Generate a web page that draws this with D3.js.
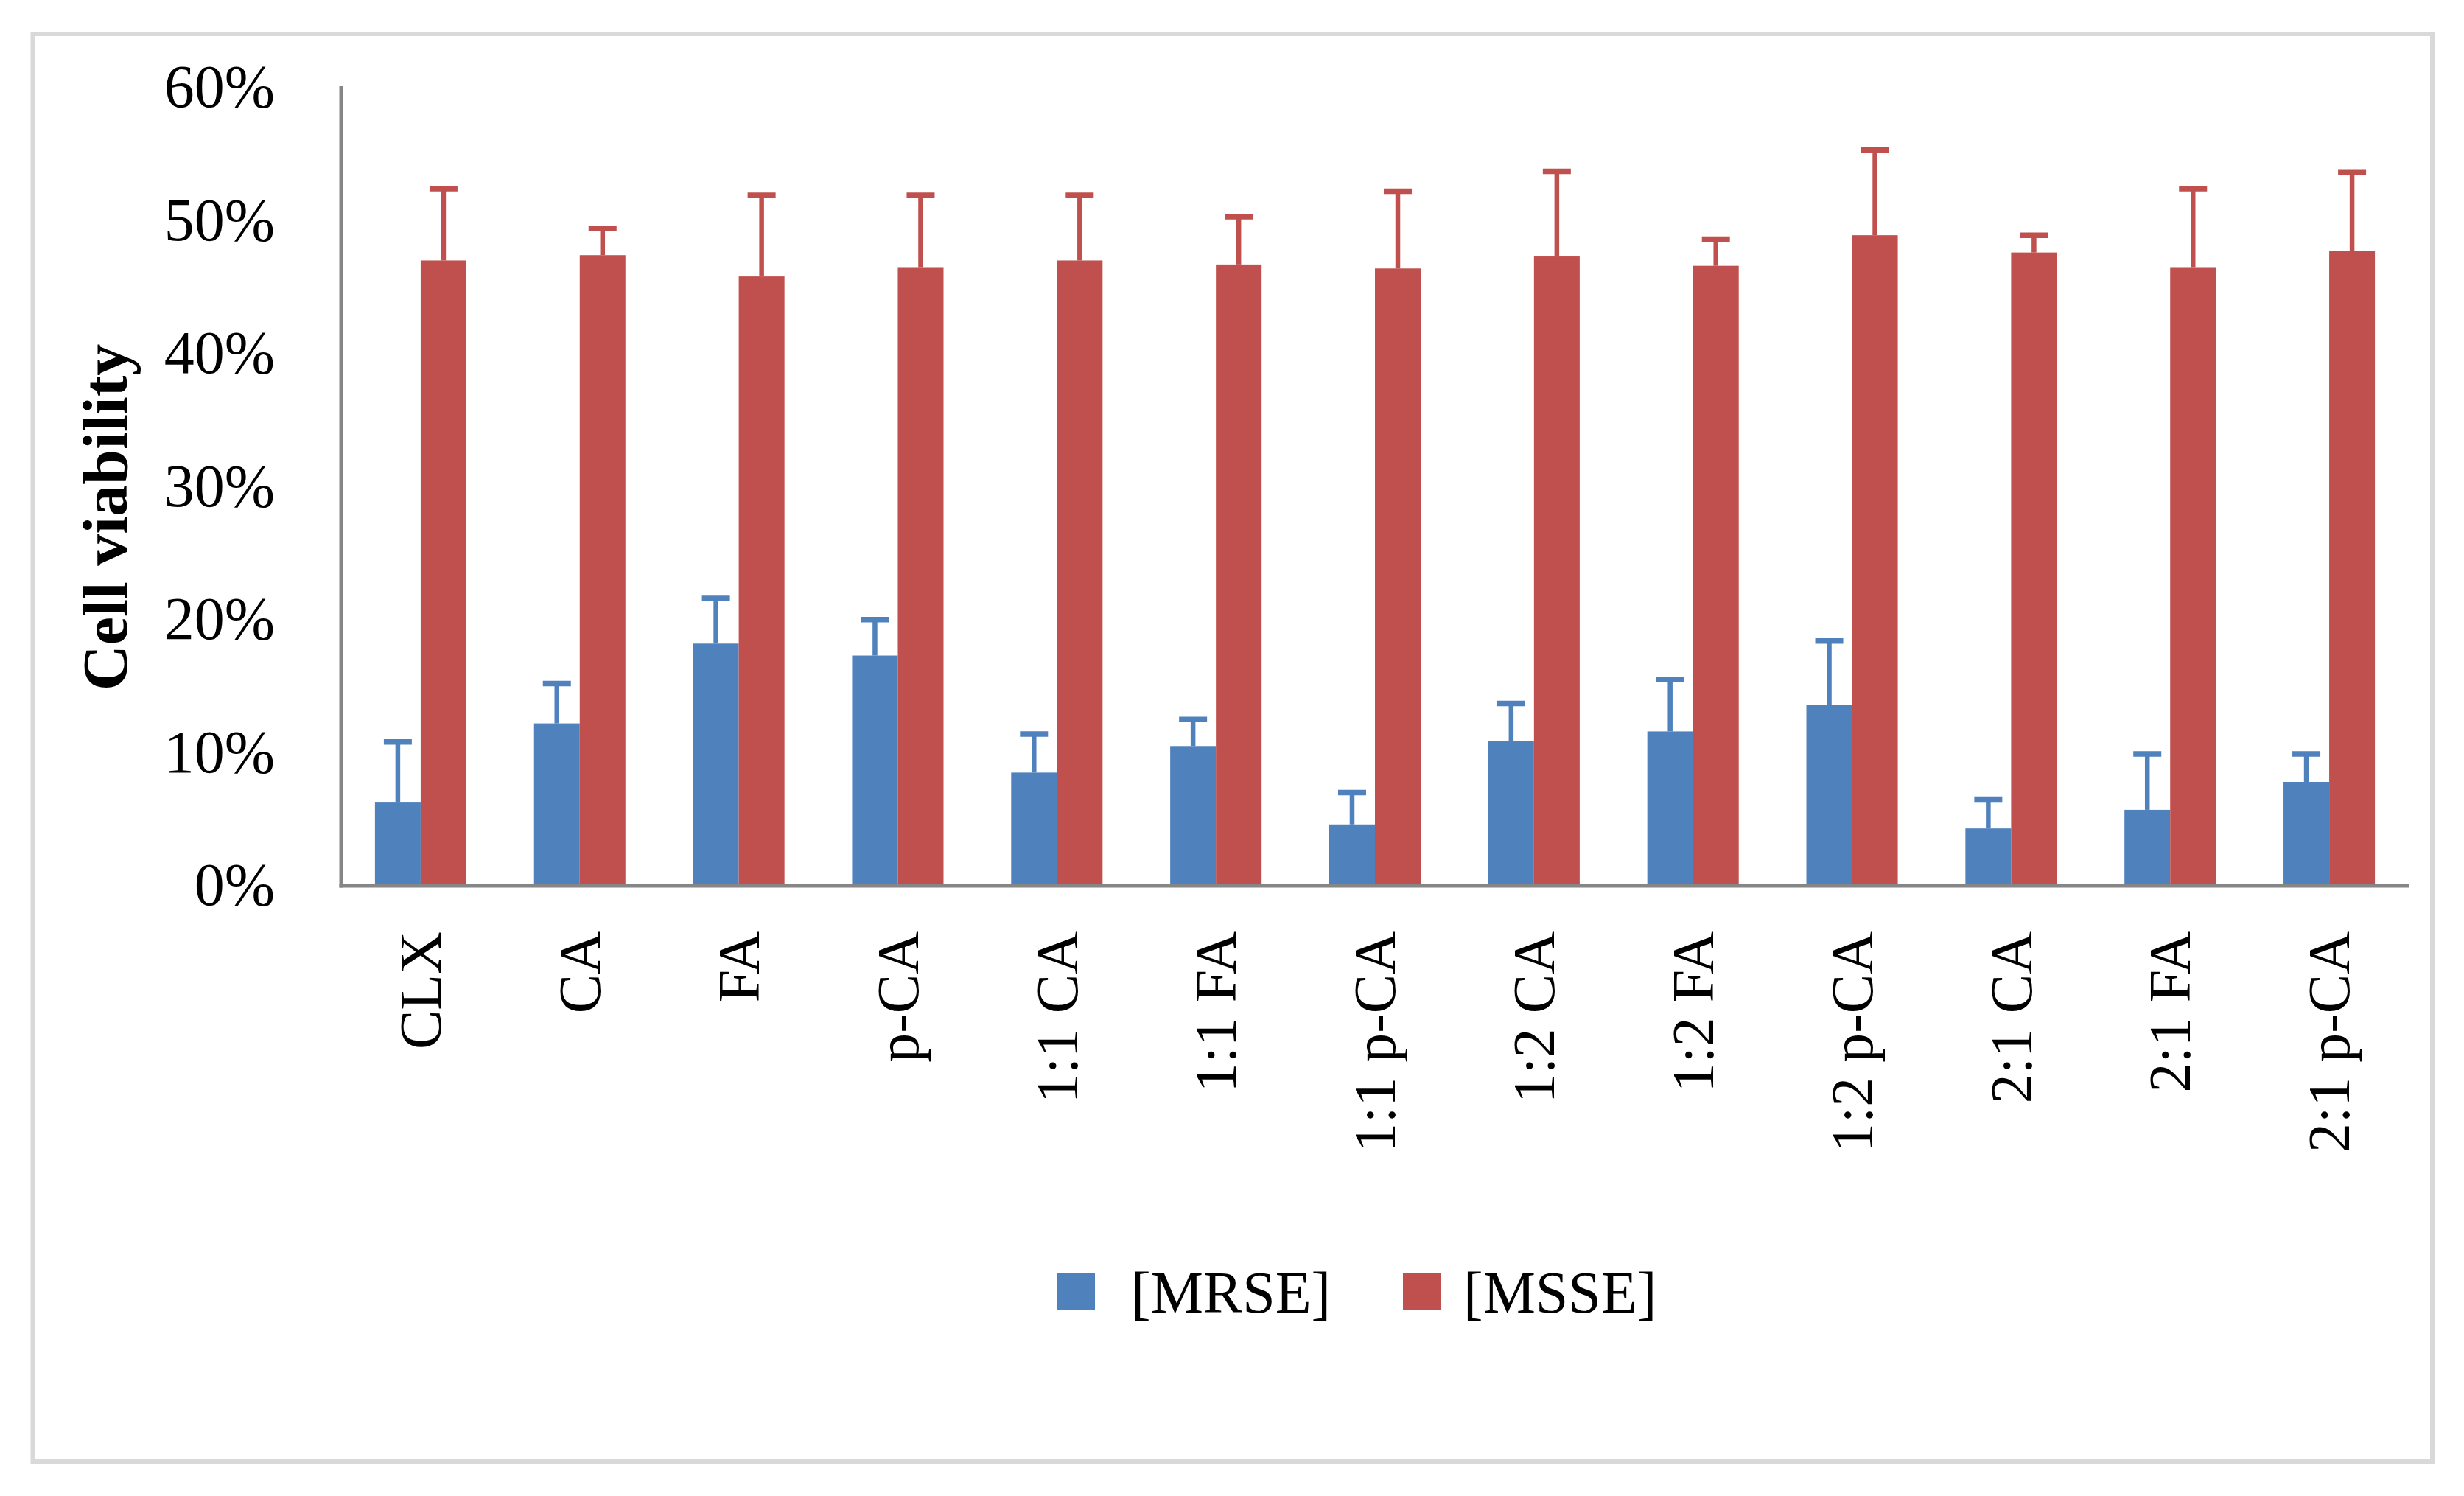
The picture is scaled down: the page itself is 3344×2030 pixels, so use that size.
<!DOCTYPE html>
<html>
<head>
<meta charset="utf-8">
<script src="https://cdn.jsdelivr.net/npm/d3@7"></script>
<style>
  html, body { margin: 0; padding: 0; background: #ffffff; }
  svg { display: block; }
  text { font-family: "Liberation Serif", "DejaVu Serif", serif; fill: #000; }
</style>
</head>
<body>
<svg id="chart" width="3344" height="2030"></svg>
<script>
// ---- data ----
const categories = ["CLX","CA","FA","p-CA","1:1 CA","1:1 FA","1:1 p-CA","1:2 CA","1:2 FA","1:2 p-CA","2:1 CA","2:1 FA","2:1 p-CA"];
const seriesNames = ["[MRSE]", "[MSSE]"];
const mrseValues = [6.2, 12.1, 18.1, 17.2, 8.4, 10.4, 4.5, 10.8, 11.5, 13.5, 4.2, 5.6, 7.7];
const mrseErrors = [4.5, 3.0, 3.4, 2.7, 2.9, 2.0, 2.4, 2.8, 3.9, 4.8, 2.2, 4.2, 2.1];
const msseValues = [46.9, 47.3, 45.7, 46.4, 46.9, 46.6, 46.3, 47.2, 46.5, 48.8, 47.5, 46.4, 47.6];
const msseErrors = [5.4, 2.0, 6.1, 5.4, 4.9, 3.6, 5.8, 6.4, 2.0, 6.4, 1.3, 5.9, 5.9];
const yTicks = [0, 10, 20, 30, 40, 50, 60];
const colors = ["#4F81BD", "#C0504D"];
const yTitle = "Cell viability";

// ---- layout ----
const svg = d3.select("#chart");
const plot = { left: 463, right: 3269, top: 117, bottom: 1200 };
const fontSize = 80;

// outer border
svg.append("rect")
  .attr("x", 44.5).attr("y", 46)
  .attr("width", 3301 - 44.5).attr("height", 1983 - 46)
  .attr("fill", "#fff").attr("stroke", "#D9D9D9").attr("stroke-width", 6);

const x0 = d3.scaleBand().domain(categories).range([plot.left, plot.right]).paddingInner(0).paddingOuter(0);
const x1 = d3.scaleBand().domain(seriesNames).range([0, x0.bandwidth()]).paddingInner(0).paddingOuter(0.74);
const y = d3.scaleLinear().domain([0, 60]).range([plot.bottom, plot.top]);

const rows = categories.map((c, i) => ({
  cat: c,
  vals: [
    { s: seriesNames[0], v: mrseValues[i], e: mrseErrors[i], c: colors[0] },
    { s: seriesNames[1], v: msseValues[i], e: msseErrors[i], c: colors[1] }
  ]
}));

const groups = svg.append("g").selectAll("g").data(rows).join("g")
  .attr("transform", d => `translate(${x0(d.cat)},0)`);

groups.selectAll("rect").data(d => d.vals).join("rect")
  .attr("x", d => x1(d.s))
  .attr("y", d => y(d.v))
  .attr("width", x1.bandwidth())
  .attr("height", d => y(0) - y(d.v))
  .attr("fill", d => d.c);

// error bars (positive direction)
const capW = 38;
const eb = groups.selectAll("g.err").data(d => d.vals).join("g").attr("class", "err");
eb.append("line")
  .attr("x1", d => x1(d.s) + x1.bandwidth() / 2)
  .attr("x2", d => x1(d.s) + x1.bandwidth() / 2)
  .attr("y1", d => y(d.v))
  .attr("y2", d => y(d.v + d.e))
  .attr("stroke", d => d.c).attr("stroke-width", 6.5);
eb.append("line")
  .attr("x1", d => x1(d.s) + x1.bandwidth() / 2 - capW / 2)
  .attr("x2", d => x1(d.s) + x1.bandwidth() / 2 + capW / 2)
  .attr("y1", d => y(d.v + d.e))
  .attr("y2", d => y(d.v + d.e))
  .attr("stroke", d => d.c).attr("stroke-width", 7.5);

// y axis
const yAxis = d3.axisLeft(y).tickValues(yTicks).tickFormat(d => d + "%").tickSize(0).tickPadding(90);
const gy = svg.append("g").attr("transform", `translate(${plot.left},0)`).call(yAxis);
gy.select(".domain").remove();
gy.selectAll("text")
  .attr("font-size", 82)
  .attr("font-family", "Liberation Serif")
  .attr("dy", "0.34em");
svg.append("line")
  .attr("x1", plot.left).attr("x2", plot.left)
  .attr("y1", plot.top).attr("y2", plot.bottom + 4.5)
  .attr("stroke", "#868686").attr("stroke-width", 5);

// x axis
const xAxis = d3.axisBottom(x0).tickSize(0).tickPadding(0);
const gx = svg.append("g").attr("transform", `translate(0,${plot.bottom + 2})`).call(xAxis);
gx.select(".domain").remove();
gx.selectAll(".tick text")
  .attr("font-size", fontSize)
  .attr("font-family", "Liberation Serif")
  .attr("text-anchor", "end")
  .attr("transform", "translate(0,62) rotate(-90)")
  .attr("x", 0).attr("y", 0)
  .attr("dy", "0.34em");
svg.append("line")
  .attr("x1", plot.left - 2.5).attr("x2", plot.right)
  .attr("y1", plot.bottom + 2).attr("y2", plot.bottom + 2)
  .attr("stroke", "#868686").attr("stroke-width", 5);

// y title
svg.append("text")
  .attr("transform", `translate(172,702) rotate(-90)`)
  .attr("text-anchor", "middle")
  .attr("font-size", 86)
  .attr("font-weight", "bold")
  .text(yTitle);

// legend
const legend = svg.append("g").attr("transform", "translate(1434,1727)");
const li = legend.selectAll("g").data(seriesNames).join("g")
  .attr("transform", (d, i) => `translate(${i * 470},0)`);
li.append("rect").attr("width", 52).attr("height", 51).attr("fill", (d, i) => colors[i]);
li.append("text")
  .attr("x", (d, i) => i === 0 ? 101 : 82).attr("y", 27)
  .attr("dy", "0.34em")
  .attr("font-size", fontSize)
  .text(d => d);
</script>
</body>
</html>
